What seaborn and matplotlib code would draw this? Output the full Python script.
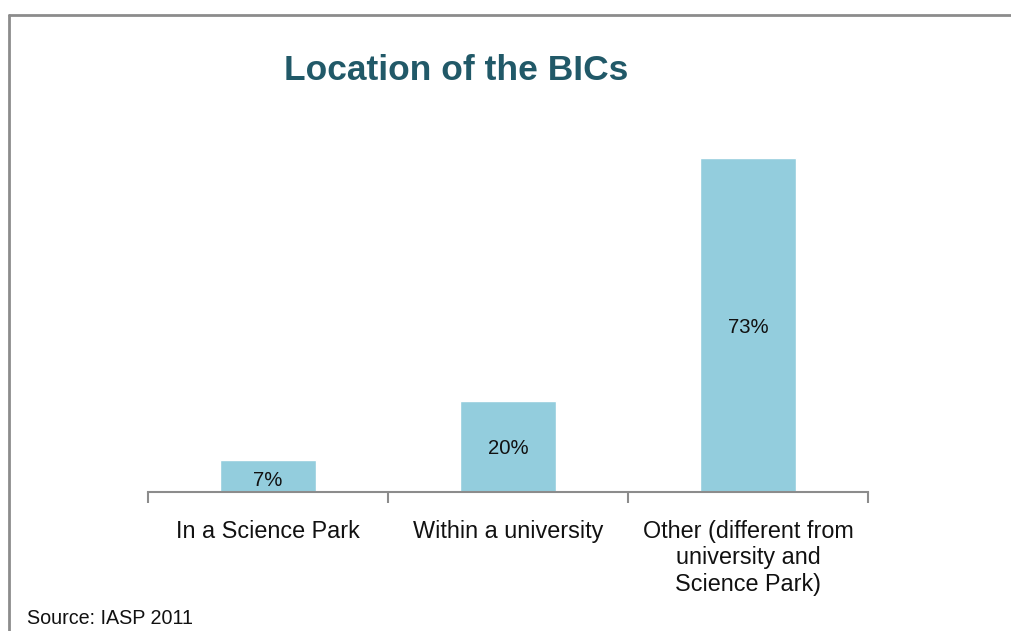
import matplotlib
matplotlib.use("Agg")
import matplotlib.pyplot as plt
import seaborn as sns
import pandas as pd

categories = ["In a Science Park", "Within a university",
              "Other (different from\nuniversity and\nScience Park)"]
values = [7, 20, 73]
labels = ["7%", "20%", "73%"]

sns.set_theme(style="white")
plt.rcParams['font.family'] = ['Liberation Sans', 'DejaVu Sans']

W, H = 1011, 631
fig = plt.figure(figsize=(W / 100, H / 100), dpi=100)
fig.patch.set_facecolor("white")

ax = fig.add_axes([148 / W, (H - 492) / H, (868 - 148) / W, (492 - 140) / H])
df = pd.DataFrame({"cat": categories, "val": values})
sns.barplot(data=df, x="cat", y="val", color="#93CDDD", saturation=1,
            width=0.4, ax=ax)
ax.set_xlim(-0.5, 2.5)
ax.set_ylim(0, 77)

for i, (v, lab) in enumerate(zip(values, labels)):
    ax.text(i, v / 2 - (1.0 if v < 10 else 0.5), lab, ha="center", va="center",
            fontsize=14.6, color="#111111")

for s in ["top", "right", "left"]:
    ax.spines[s].set_visible(False)
ax.spines["bottom"].set_color("#8c8c8c")
ax.spines["bottom"].set_linewidth(1.5)
ax.set_yticks([])
ax.set_xticks([-0.5, 0.5, 1.5, 2.5], minor=False)
ax.set_xticklabels([])
ax.tick_params(axis="x", which="major", length=8, width=1.5, color="#8c8c8c",
               direction="out", bottom=True)
ax.set_xticks([0, 1, 2], minor=True)
ax.set_xticklabels(categories, minor=True, fontsize=16.8, color="#111111",
                   linespacing=1.2, va="top")
ax.tick_params(axis="x", which="minor", length=0, pad=20)
ax.set_xlabel("")
ax.set_ylabel("")

fig.text(456 / W, 1 - 70 / H, "Location of the BICs", ha="center", va="center",
         fontsize=25.5, fontweight="bold", color="#215968")
fig.text(27 / W, 1 - 618 / H, "Source: IASP 2011", ha="left", va="center",
         fontsize=14.2, color="#111111")

# frame lines (top and left)
fig.add_artist(plt.Line2D([8.5 / W, 1.0], [1 - 14.5 / H, 1 - 14.5 / H],
                          color="#8c8c8c", lw=2, transform=fig.transFigure))
fig.add_artist(plt.Line2D([8.5 / W, 8.5 / W], [0, 1 - 14.5 / H],
                          color="#8c8c8c", lw=2, transform=fig.transFigure))

fig.savefig("out.png", dpi=100, facecolor="white")
